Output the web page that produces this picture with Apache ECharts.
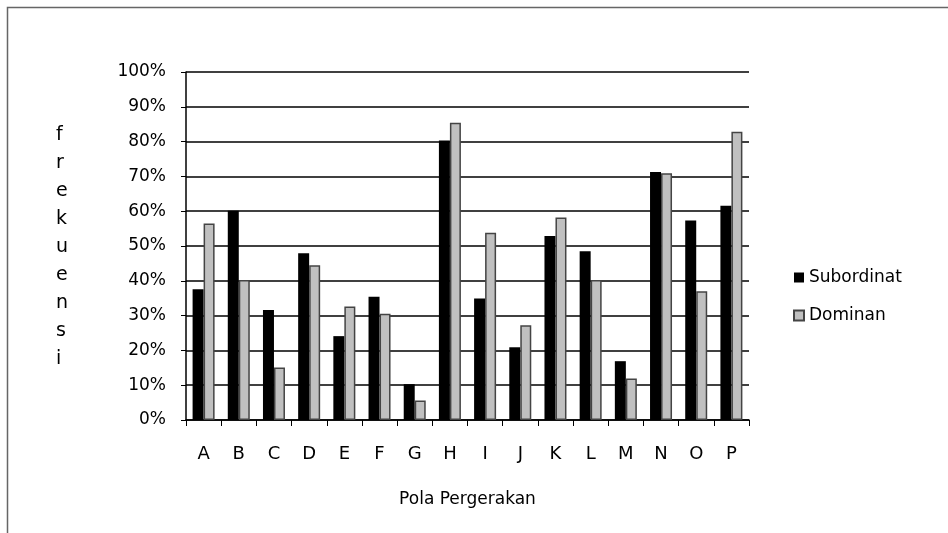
<!DOCTYPE html>
<html><head><meta charset="utf-8">
<script src="https://cdn.jsdelivr.net/npm/echarts@6/dist/echarts.min.js"></script>
<style>html,body{margin:0;padding:0;background:#fff}#c{width:948px;height:533px}</style>
</head><body><div id="c"></div>
<script>
const categories = ['A','B','C','D','E','F','G','H','I','J','K','L','M','N','O','P'];
const subordinat = [37.6,60.1,31.6,47.9,24.1,35.4,10.3,80.3,34.9,20.9,52.9,48.5,16.9,71.3,57.3,61.6];
const dominan = [56.5,40.2,15.1,44.5,32.6,30.5,5.6,85.4,53.8,27.2,58.2,40.2,11.9,70.9,37.0,82.8];
const yTicks = [0,10,20,30,40,50,60,70,80,90,100];

const chart = echarts.init(document.getElementById('c'));
const font = '"DejaVu Sans", Arial, sans-serif';
chart.setOption({
  animation:false,
  backgroundColor:'#fff',
  grid:{left:186,top:72,width:563,height:348},
  legend:{
    orient:'vertical', left:788, top:264, itemGap:21,
    itemWidth:10, itemHeight:10, icon:'rect',
    textStyle:{fontFamily:font,fontSize:17,color:'#000'},
    data:['Subordinat','Dominan']
  },
  xAxis:{
    type:'category', data:categories,
    axisLine:{lineStyle:{color:'#000',width:1.5}},
    axisTick:{show:true,length:6,lineStyle:{color:'#000'}},
    axisLabel:{fontFamily:font,fontSize:18,color:'#000',margin:25},
    name:'Pola Pergerakan', nameLocation:'middle', nameGap:71,
    nameTextStyle:{fontFamily:font,fontSize:17,color:'#000'}
  },
  yAxis:{
    type:'value', min:0, max:100, interval:10,
    axisLine:{show:true,lineStyle:{color:'#000',width:1.5}},
    axisTick:{show:true,length:5,lineStyle:{color:'#000'}},
    axisLabel:{fontFamily:font,fontSize:17,color:'#000',margin:20,
      formatter:v=> yTicks.includes(v) ? v+'%' : ''},
    splitLine:{lineStyle:{color:'#000',width:1.5}}
  },
  graphic:[
    {type:'rect',left:5,top:5,shape:{width:942,height:527},
     style:{fill:'none',stroke:'#666',lineWidth:1.5},silent:true},
    {type:'text',left:56,top:121,
     style:{text:'f\nr\ne\nk\nu\ne\nn\ns\ni',font:'19px '+font,fill:'#000',lineHeight:28,align:'center'}}
  ],
  series:[
    {name:'Subordinat',type:'bar',data:subordinat,barWidth:11,barGap:'0%',
     itemStyle:{color:'#000'}},
    {name:'Dominan',type:'bar',data:dominan,barWidth:11,
     itemStyle:{color:'#c0c0c0',borderColor:'#444',borderWidth:1.5}}
  ]
});
</script></body></html>
